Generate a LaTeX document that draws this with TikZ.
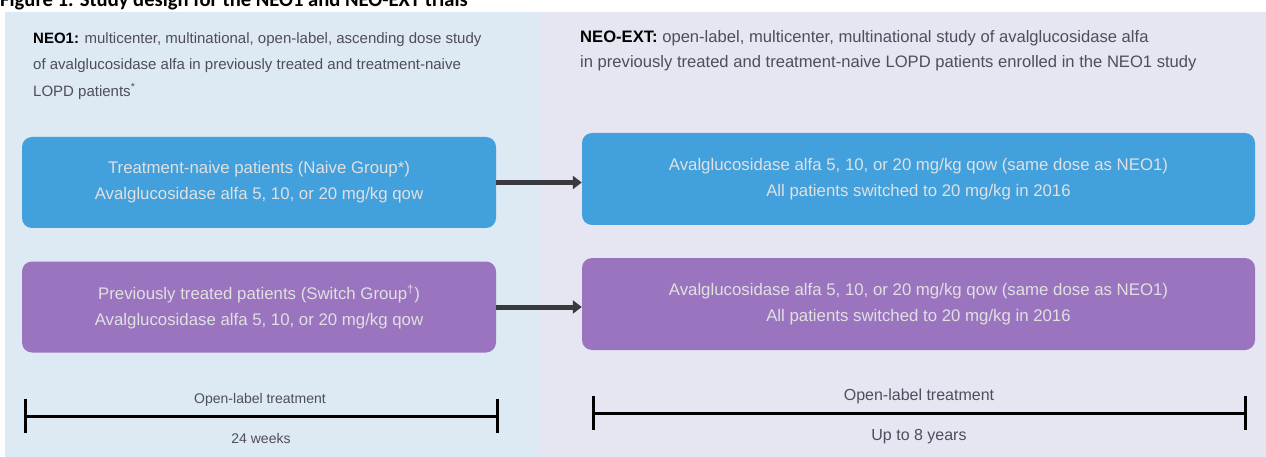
\documentclass[tikz,border=0pt]{standalone}
\usepackage{fontspec}
\setmainfont{Liberation Sans}
\newfontfamily\titlefont{Carlito}
\usetikzlibrary{arrows.meta}
\definecolor{bgleft}{HTML}{DDE9F3}
\definecolor{bgright}{HTML}{E6E6F2}
\definecolor{blueC}{HTML}{42A1DD}
\definecolor{purpC}{HTML}{9B74BF}
\definecolor{txtgray}{HTML}{4E4E5C}
\definecolor{arrgray}{HTML}{3A3A3E}
\tikzset{
  box/.style={rounded corners=10pt, draw=none, text=white!88!black, align=center,
    font=\fontsize{16.8}{26}\selectfont},
  leftbox/.style={box, minimum width=474pt, minimum height=91pt},
  rightbox/.style={box, minimum width=673pt, minimum height=92pt},
  flow/.style={line width=5pt, draw=arrgray, -{Triangle[length=9pt,width=13pt]}},
  head/.style={anchor=north west, align=left, text=txtgray, inner sep=0pt},
  bar/.style={line width=3pt, draw=black},
  tick/.style={line width=3pt, draw=black},
  tlabel/.style={text=txtgray, inner sep=0pt}
}
\begin{document}
\begin{tikzpicture}[x=1pt,y=-1pt]
\useasboundingbox (0,0) rectangle (1266,457);
\clip (0,0) rectangle (1266,457);
\fill[white] (0,0) rectangle (1266,457);
\fill[bgleft] (5,12) rectangle (540,457);
\fill[bgright] (540,12) rectangle (1266,457);
% title (clipped at top, as in the source)
\node[anchor=base west, inner sep=0pt, font=\titlefont\bfseries\fontsize{20.6}{22}\selectfont] (title) at (0,7) {Figure 1. Study design for the NEO1 and NEO-EXT trials};
% headers
\node[head, font=\fontsize{15}{26.5}\selectfont] (h1) at (33,32) {\textbf{\color{black}NEO1:} multicenter, multinational, open-label, ascending dose study\\
of avalglucosidase alfa in previously treated and treatment-naive\\
LOPD patients\textsuperscript{*}};
\node[head, font=\fontsize{16.6}{25}\selectfont] (h2) at (580,30) {\textbf{\color{black}NEO-EXT:} open-label, multicenter, multinational study of avalglucosidase alfa\\
in previously treated and treatment-naive LOPD patients enrolled in the NEO1 study};
% boxes
\node[leftbox, fill=blueC] (tl) at (259,182.5) {Treatment-naive patients (Naive Group*)\\Avalglucosidase alfa 5, 10, or 20 mg/kg qow};
\node[rightbox, fill=blueC] (tr) at (918.5,179) {Avalglucosidase alfa 5, 10, or 20 mg/kg qow (same dose as NEO1)\\All patients switched to 20 mg/kg in 2016};
\node[leftbox, fill=purpC] (bl) at (259,307) {Previously treated patients (Switch Group\textsuperscript{\dag})\\Avalglucosidase alfa 5, 10, or 20 mg/kg qow};
\node[rightbox, fill=purpC] (br) at (918.5,304) {Avalglucosidase alfa 5, 10, or 20 mg/kg qow (same dose as NEO1)\\All patients switched to 20 mg/kg in 2016};
\draw[flow] (tl.east) -- (tl.east -| tr.west);
\draw[flow] (bl.east) -- (bl.east -| br.west);
% timelines
\coordinate (la) at (25,416);
\coordinate (lb) at (497,416);
\coordinate (ra) at (593,413);
\coordinate (rb) at (1245,413);
\draw[bar] (la) -- (lb);
\draw[tick] ([yshift=-17pt]la) -- ([yshift=17pt]la);
\draw[tick] ([yshift=-17pt]lb) -- ([yshift=17pt]lb);
\draw[bar] (ra) -- (rb);
\draw[tick] ([yshift=-17pt]ra) -- ([yshift=17pt]ra);
\draw[tick] ([yshift=-17pt]rb) -- ([yshift=17pt]rb);
\node[tlabel, font=\fontsize{14}{16}\selectfont] (l1) at (260,400) {Open-label treatment};
\node[tlabel, font=\fontsize{14}{16}\selectfont] (l2) at (261,438) {24 weeks};
\node[tlabel, font=\fontsize{16}{18}\selectfont] (r1) at (919,396) {Open-label treatment};
\node[tlabel, font=\fontsize{16}{18}\selectfont] (r2) at (919,437) {Up to 8 years};
\end{tikzpicture}
\end{document}
